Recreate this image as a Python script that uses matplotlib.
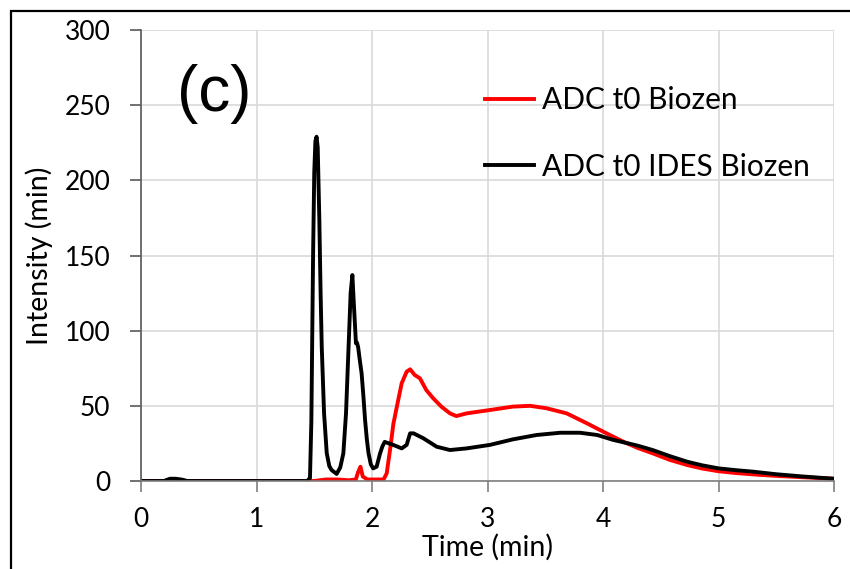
import matplotlib.pyplot as plt
from matplotlib.patches import Rectangle

plt.rcParams['font.family'] = ['Lato', 'DejaVu Sans']

# ADC t0 IDES Biozen (black)
t_black = [0, 0.2, 0.25, 0.3, 0.35, 0.4, 1.44, 1.463, 1.475, 1.49, 1.50, 1.51,
           1.52, 1.53, 1.544, 1.555, 1.565, 1.585, 1.608, 1.63, 1.65, 1.694,
           1.725, 1.752, 1.775, 1.795, 1.815, 1.83, 1.844, 1.861, 1.87, 1.88,
           1.895, 1.91, 1.925, 1.94, 1.955, 1.97, 1.99, 2.01, 2.04, 2.07, 2.09,
           2.11, 2.185, 2.257, 2.30, 2.33, 2.36, 2.445, 2.56, 2.675, 2.82,
           3.02, 3.22, 3.425, 3.63, 3.80, 3.95, 4.09, 4.22, 4.3, 4.43, 4.58,
           4.73, 4.86, 5.0, 5.15, 5.3, 5.5, 5.73, 6.0]
i_black = [0, 0, 1.5, 1.5, 1.0, 0, 0, 2, 40, 151, 205, 226,
           229, 222, 174, 125, 89, 45, 18.6, 10, 7.3, 4.7,
           9, 18.4, 45, 85, 125, 137, 116, 91.6, 92, 89,
           80, 71.6, 57, 40.6, 28, 18.4, 11, 8.4, 9.5, 18.4, 23,
           26, 24, 21.7, 24, 31.7, 31.7, 28.4, 22.8, 20.6, 21.7,
           24, 27.7, 30.6, 32.1, 32.1, 30.6, 27.3, 25, 23.5, 20.6, 16.5,
           12.8, 10.4, 8.4, 7.2, 6.2, 4.5, 3, 1.5]

# ADC t0 Biozen (red)
t_red = [0, 0.2, 0.25, 0.3, 0.4, 1.5, 1.6, 1.7, 1.8, 1.86, 1.88, 1.90, 1.92,
         1.96, 2.0, 2.10, 2.127, 2.156, 2.185, 2.214, 2.257, 2.30, 2.33, 2.37,
         2.415, 2.47, 2.53, 2.60, 2.675, 2.73, 2.82, 3.02, 3.22, 3.37, 3.51,
         3.685, 3.86, 4.03, 4.18, 4.3, 4.43, 4.58, 4.73, 4.86, 5.0, 5.15, 5.3,
         5.5, 5.73, 6.0]
i_red = [0, 0, 0.8, 0.8, 0, 0, 1, 1, 0.5, 1, 6, 9.5, 3,
         1, 1, 1, 5, 20.6, 38, 49, 65, 72.7, 74.3, 70.5,
         68.3, 60.5, 55, 49.5, 45, 43.2, 45, 47.2, 49.5, 50, 48.4,
         45, 38.4, 31.7, 26, 22, 18.4, 14, 10.6, 8.3, 6.5, 5.3, 4.4,
         3.4, 2.5, 1.5]

x_ticks = [0, 1, 2, 3, 4, 5, 6]
y_ticks = [0, 50, 100, 150, 200, 250, 300]

fig = plt.figure(figsize=(8.5, 5.69), dpi=100)
ax = fig.add_axes([141 / 850, 1 - 481 / 569, 693 / 850, 451 / 569])

ax.plot(t_red, i_red, color='#ff0000', lw=2.8, label='ADC t0 Biozen',
        solid_joinstyle='round')
ax.plot(t_black, i_black, color='black', lw=2.8, label='ADC t0 IDES Biozen',
        solid_joinstyle='round')

ax.set_xlim(0, 6)
ax.set_ylim(0, 300)
ax.set_xticks(x_ticks)
ax.set_yticks(y_ticks)
ax.grid(True, color='#d9d9d9', lw=1.2)
ax.set_axisbelow(True)
for side in ['top', 'right']:
    ax.spines[side].set_visible(False)
ax.spines['left'].set_color('#595959')
ax.spines['bottom'].set_color('#7f7f7f')
ax.spines['left'].set_linewidth(1.2)
ax.spines['bottom'].set_linewidth(1.2)
ax.tick_params(axis='y', direction='out', length=8, width=1.2, color='#595959',
               labelsize=19, pad=14)
ax.tick_params(axis='x', direction='out', length=8, width=1.2, color='#7f7f7f',
               labelsize=19, pad=11)

ax.set_xlabel('Time (min)', fontsize=20.5, labelpad=1)
ax.set_ylabel('Intensity (min)', fontsize=20.5, labelpad=8)

ax.text(0.052, 0.925, '(c)', transform=ax.transAxes, fontsize=46,
        family='Liberation Sans', va='top', ha='left')

ax.legend(loc='upper left', bbox_to_anchor=(485 / 850, 1 - 86 / 569),
          bbox_transform=fig.transFigure, frameon=False, fontsize=21.5,
          handlelength=1.65, handletextpad=0.25, labelspacing=1.3,
          borderpad=0, borderaxespad=0)

# outer frame around the figure
fig.patches.append(Rectangle((11 / 850, -0.1), 1.2, 1 - 11 / 569 + 0.1,
                             transform=fig.transFigure, fill=False,
                             edgecolor='black', lw=1.6))

fig.savefig('out.png', dpi=100)
